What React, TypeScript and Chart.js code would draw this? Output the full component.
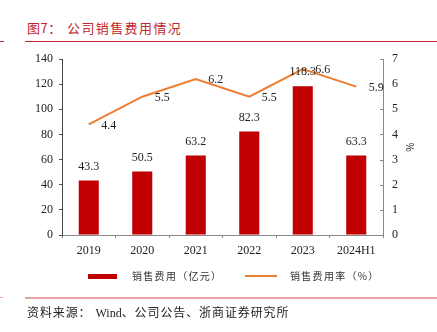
import React, { useEffect, useRef } from "react";
import { Chart, registerables } from "chart.js";

Chart.register(...registerables);

const categories = ["2019", "2020", "2021", "2022", "2023", "2024H1"];
const salesExpense = [43.3, 50.5, 63.2, 82.3, 118.3, 63.3];
const expenseRate = [4.4, 5.5, 6.2, 5.5, 6.6, 5.9];
const leftTicks = [0, 20, 40, 60, 80, 100, 120, 140];
const rightTicks = [0, 1, 2, 3, 4, 5, 6, 7];

const NUM_FONT = "'Liberation Serif', 'Times New Roman', serif";
const CJK_FONT = "'Noto Sans CJK SC', 'Noto Sans', sans-serif";

const labelPlugin = {
  id: "valueLabels",
  afterDatasetsDraw(chart: any) {
    const ctx = chart.ctx;
    ctx.save();
    ctx.font = `12px ${NUM_FONT}`;
    ctx.fillStyle = "#222";
    ctx.textAlign = "center";
    ctx.textBaseline = "middle";
    chart.data.datasets.forEach((ds: any, di: number) => {
      const meta = chart.getDatasetMeta(di);
      meta.data.forEach((el: any, i: number) => {
        const v = ds.data[i];
        if (ds.type === "bar") {
          ctx.fillText(v.toFixed(1), el.x, el.y - 14);
        } else {
          ctx.fillText(v.toFixed(1), el.x + 20, el.y + 1);
        }
      });
    });
    ctx.restore();
  },
};

const rightTickPlugin = {
  id: "rightInnerTicks",
  afterDraw(chart: any) {
    const s = chart.scales.y1;
    const ctx = chart.ctx;
    ctx.save();
    ctx.strokeStyle = "#888";
    ctx.lineWidth = 1;
    s.ticks.forEach((t: any) => {
      const y = Math.round(s.getPixelForValue(t.value)) + 0.5;
      ctx.beginPath();
      ctx.moveTo(s.left - 3, y);
      ctx.lineTo(s.left, y);
      ctx.stroke();
    });
    ctx.restore();
  },
};

export default function App() {
  const ref = useRef<HTMLCanvasElement | null>(null);

  useEffect(() => {
    if (!ref.current) return;
    const chart = new Chart(ref.current, {
      type: "bar",
      data: {
        labels: categories,
        datasets: [
          {
            type: "line",
            label: "销售费用率（%）",
            data: expenseRate,
            yAxisID: "y1",
            borderColor: "#ED7D31",
            backgroundColor: "#ED7D31",
            borderWidth: 2,
            pointRadius: 0,
            tension: 0,
            order: 0,
          } as any,
          {
            type: "bar",
            label: "销售费用（亿元）",
            data: salesExpense,
            yAxisID: "y",
            backgroundColor: "#C00000",
            categoryPercentage: 1,
            barPercentage: 0.375,
            order: 1,
          } as any,
        ],
      },
      options: {
        responsive: false,
        devicePixelRatio: 1,
        animation: false,
        layout: { padding: { top: 59, left: 0, right: 0, bottom: 0 } },
        plugins: {
          legend: { display: false },
          tooltip: { enabled: false },
          title: { display: false },
        },
        scales: {
          x: {
            grid: {
              display: true,
              drawOnChartArea: false,
              drawTicks: true,
              tickLength: 3,
              color: "#888",
              offset: true,
            },
            border: { display: true, color: "#888", width: 1 },
            ticks: {
              font: { family: NUM_FONT, size: 12 },
              color: "#222",
              padding: 6,
              maxRotation: 0,
            },
            afterFit: (s: any) => {
              s.height = 97;
            },
          },
          y: {
            position: "left",
            min: 0,
            max: 140,
            afterBuildTicks: (s: any) => {
              s.ticks = leftTicks.map((v) => ({ value: v }));
            },
            grid: {
              drawOnChartArea: false,
              drawTicks: true,
              tickLength: 3,
              color: "#555",
            },
            border: { display: true, color: "#444", width: 1 },
            ticks: {
              font: { family: NUM_FONT, size: 12 },
              color: "#222",
              padding: 6,
            },
            afterFit: (s: any) => {
              s.width = 62;
            },
          },
          y1: {
            position: "right",
            min: 0,
            max: 7,
            afterBuildTicks: (s: any) => {
              s.ticks = rightTicks.map((v) => ({ value: v }));
            },
            grid: {
              drawOnChartArea: false,
              drawTicks: false,
            },
            border: { display: true, color: "#888", width: 1 },
            ticks: {
              font: { family: NUM_FONT, size: 12 },
              color: "#222",
              padding: 9,
            },
            title: {
              display: true,
              text: "%",
              color: "#222",
              font: { family: CJK_FONT, size: 10 },
              padding: { top: 21, bottom: 0 },
            },
            afterFit: (s: any) => {
              s.width = 54;
            },
          },
        },
      },
      plugins: [labelPlugin, rightTickPlugin],
    });
    return () => chart.destroy();
  }, []);

  const abs = (style: React.CSSProperties): React.CSSProperties => ({
    position: "absolute",
    ...style,
  });

  return (
    <div
      style={{
        position: "fixed",
        left: 0,
        top: 0,
        width: 437,
        height: 332,
        background: "#fff",
        overflow: "hidden",
      }}
    >
      <div
        style={abs({
          left: 27,
          top: 19,
          fontFamily: CJK_FONT,
          fontSize: 13,
          lineHeight: "18px",
          color: "#C0282D",
          whiteSpace: "nowrap",
        })}
      >
        <span style={{ letterSpacing: 0.5 }}>图7：</span>
        <span style={{ position: "absolute", left: 40, letterSpacing: 1.4 }}>
          公司销售费用情况
        </span>
      </div>
      <div style={abs({ left: 0, top: 41, width: 4, height: 1, background: "#C0282D" })} />
      <div style={abs({ left: 25, top: 41, width: 412, height: 1, background: "#C0282D" })} />

      <canvas
        ref={ref}
        width={437}
        height={332}
        style={abs({ left: 0, top: 0, width: 437, height: 332 })}
      />

      <div style={abs({ left: 88, top: 274, width: 29, height: 5, background: "#C00000" })} />
      <div
        style={abs({
          left: 132,
          top: 269,
          fontFamily: CJK_FONT,
          fontSize: 10,
          lineHeight: "14px",
          letterSpacing: 1.3,
          color: "#333",
          whiteSpace: "nowrap",
        })}
      >
        销售费用（亿元）
      </div>
      <div style={abs({ left: 245, top: 275, width: 32, height: 2, background: "#ED7D31" })} />
      <div
        style={abs({
          left: 290,
          top: 269,
          fontFamily: CJK_FONT,
          fontSize: 10,
          lineHeight: "14px",
          letterSpacing: 1.3,
          color: "#333",
          whiteSpace: "nowrap",
        })}
      >
        销售费用率（%）
      </div>

      <div style={abs({ left: 0, top: 297, width: 3, height: 1, background: "#E8A3A3" })} />
      <div style={abs({ left: 25, top: 297, width: 412, height: 1.5, background: "#E8A3A3" })} />
      <div
        style={abs({
          left: 27,
          top: 303,
          fontFamily: CJK_FONT,
          fontSize: 12,
          lineHeight: "17px",
          letterSpacing: 0.9,
          color: "#222",
          whiteSpace: "nowrap",
        })}
      >
        资料来源：<span style={{ fontFamily: NUM_FONT, letterSpacing: 0, marginLeft: 4 }}>Wind</span>
        、公司公告、浙商证券研究所
      </div>
    </div>
  );
}
